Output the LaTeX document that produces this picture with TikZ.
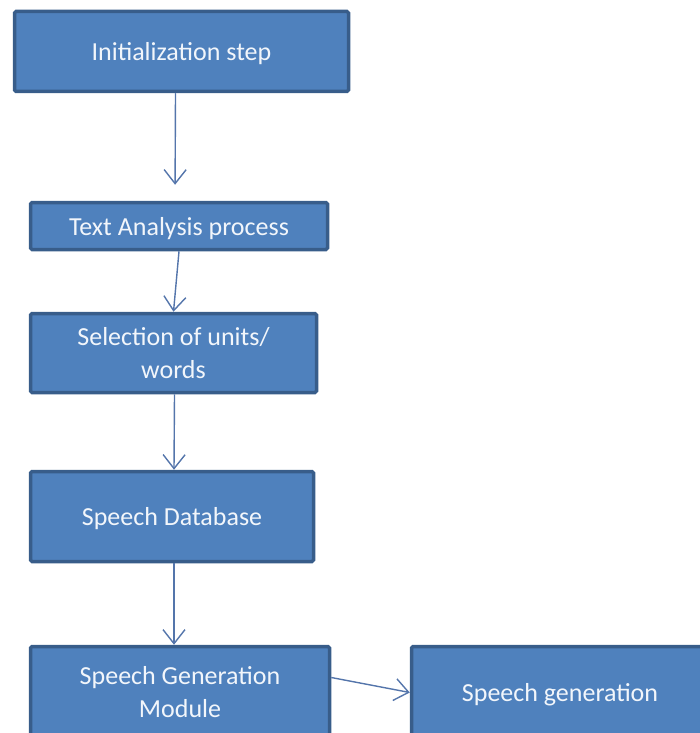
\documentclass[tikz,border=0pt]{standalone}
\usepackage{fontspec}
\setmainfont{Carlito}
\usetikzlibrary{arrows.meta}
\definecolor{boxfill}{HTML}{4F81BD}
\definecolor{boxline}{HTML}{385D8A}
\definecolor{flowline}{HTML}{5475AB}
\definecolor{boxtext}{HTML}{F2F6FB}

\begin{document}
\begin{tikzpicture}[x=1pt, y=-1pt,
    stepbox/.style={draw=boxline, fill=boxfill, line width=3.5pt, rounded corners=1.5pt,
        text=boxtext, align=center, inner sep=0pt,
        font=\fontsize{26}{33}\selectfont},
    oneline/.style={stepbox, text depth=0pt},
    flow/.style={draw=flowline, line width=1.4pt,
        -{Straight Barb[length=14pt, width=22pt, line width=1.4pt]}}]

    % Page area
    \useasboundingbox (0, 0) rectangle (700, 733);
    \clip (0, 0) rectangle (700, 733);

    % Steps of the process
    \node[oneline, minimum width=334pt, minimum height=80pt] (init) at (181.5, 51.5) {Initialization step};
    \node[oneline, minimum width=297pt, minimum height=47pt] (text) at (179, 226) {Text Analysis process};
    \node[stepbox, minimum width=286pt, minimum height=79pt] (sel) at (173.5, 353) {Selection of units/\\words};
    \node[oneline, minimum width=283pt, minimum height=90pt] (db) at (172, 516.5) {Speech Database};
    \node[stepbox, minimum width=299pt, minimum height=92pt] (gen) at (180, 692.5) {Speech Generation\\Module};
    \node[oneline, minimum width=297pt, minimum height=92pt] (out) at (560, 692.5) {Speech generation};

    % Arrows between the steps
    \draw[flow, shorten >=16pt] ([xshift=-6pt]init.south) -- ([xshift=-4pt]text.north);
    \draw[flow] (text.south) -- (sel.north);
    \draw[flow] ([xshift=1pt]sel.south) -- ([xshift=2pt]db.north);
    \draw[flow] ([xshift=2pt]db.south) -- ([xshift=-6pt]gen.north);
    \draw[flow] ([yshift=15pt]gen.east) -- (out.west);

\end{tikzpicture}
\end{document}
